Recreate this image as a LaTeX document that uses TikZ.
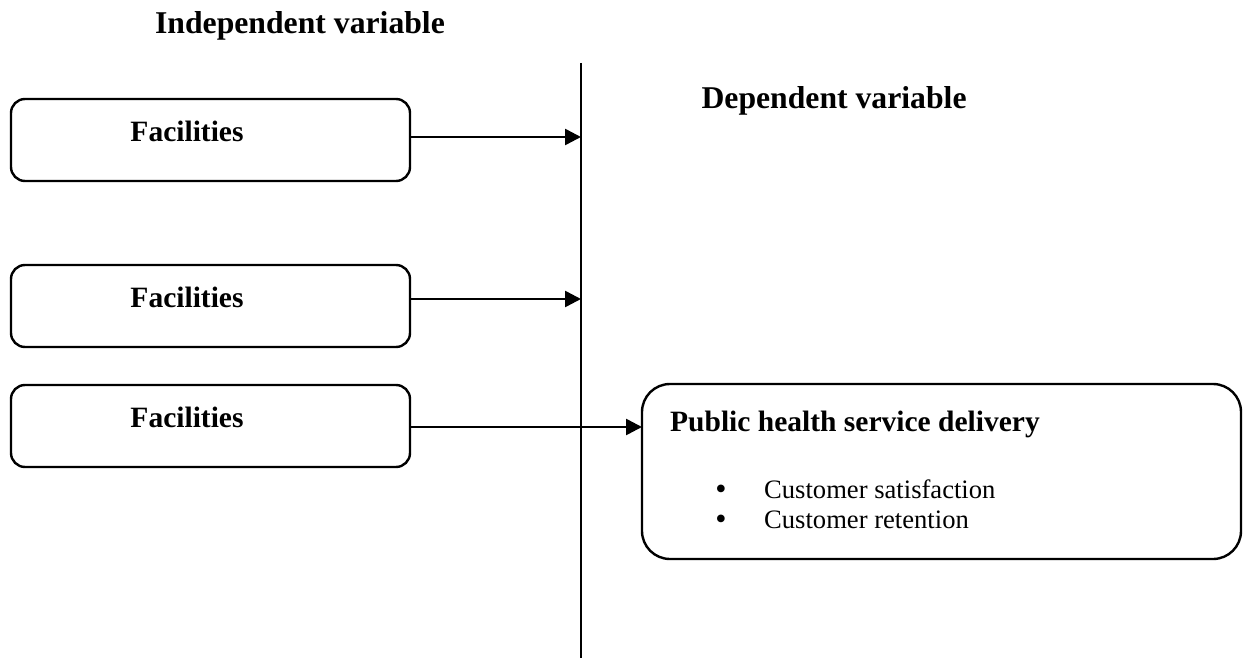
\documentclass[tikz,border=0pt]{standalone}
\usepackage{fontspec}
\setmainfont{Liberation Serif}
\usetikzlibrary{arrows.meta}
\tikzset{
  boxstyle/.style={draw, line width=2.4pt, rounded corners=14pt},
  conn/.style={line width=2.6pt, -{Triangle[length=16pt,width=16pt]}},
  titlefont/.style={font=\fontsize{31.7}{36}\selectfont\bfseries},
  headfont/.style={font=\fontsize{29.5}{34}\selectfont\bfseries},
  itemfont/.style={font=\fontsize{26.6}{30}\selectfont},
  bulfont/.style={font=\fontsize{32}{32}\selectfont, inner sep=0pt, anchor=base},
}
\begin{document}
\begin{tikzpicture}[x=1pt,y=-1pt]
\useasboundingbox (0,0) rectangle (1243,658);
% title labels
\node[titlefont, anchor=base] (indep) at (300,34) {Independent variable};
\node[titlefont, anchor=base west] (dep) at (698,109) {Dependent variable};
% vertical divider
\coordinate (vtop) at (581,63);
\coordinate (vbot) at (581,658);
\draw[line width=2.2pt] (vtop) -- (vbot);
% left boxes
\draw[boxstyle] (11,99) rectangle (410,181);
\node[headfont, anchor=base] (f1) at (187,142) {Facilities};
\draw[boxstyle] (11,265) rectangle (410,347);
\node[headfont, anchor=base] (f2) at (187,307) {Facilities};
\draw[boxstyle] (11,385) rectangle (410,467);
\node[headfont, anchor=base] (f3) at (187,427) {Facilities};
% target box
\draw[boxstyle, rounded corners=28pt] (642,384) rectangle (1241,559);
\node[headfont, anchor=base west, inner sep=0pt] (phs) at (670,431) {Public health service delivery};
\node[bulfont] (b1) at (721,499) {\textbullet};
\node[itemfont, anchor=base west, inner sep=0pt] (i1) at (764,498) {Customer satisfaction};
\node[bulfont] (b2) at (721,529) {\textbullet};
\node[itemfont, anchor=base west, inner sep=0pt] (i2) at (764,528) {Customer retention};
% connectors
\coordinate (a1s) at (410,137);
\coordinate (a1e) at (581,137);
\coordinate (a2s) at (410,299);
\coordinate (a2e) at (581,299);
\coordinate (a3s) at (410,427);
\coordinate (a3e) at (642,427);
\draw[conn] (a1s) -- (a1e);
\draw[conn] (a2s) -- (a2e);
\draw[conn] (a3s) -- (a3e);
\end{tikzpicture}
\end{document}
